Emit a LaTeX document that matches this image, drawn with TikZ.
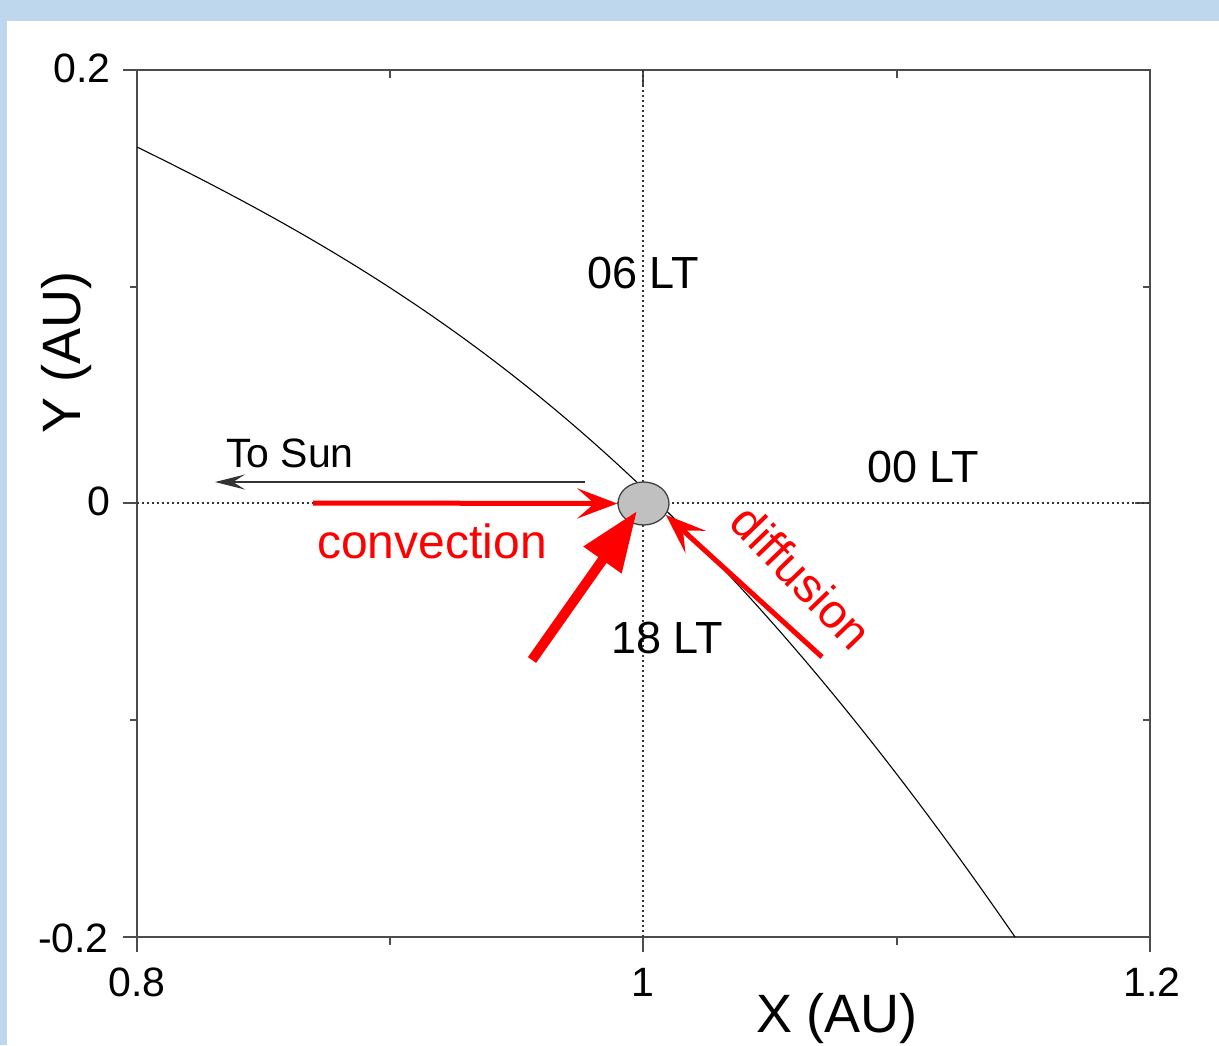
\documentclass[tikz,border=0pt]{standalone}
\usepackage{fontspec}
\setmainfont{Liberation Sans}
\usetikzlibrary{arrows.meta, shapes.geometric}
\definecolor{frameblue}{RGB}{190,215,237}
\definecolor{earthgray}{RGB}{192,192,192}
\definecolor{flowred}{RGB}{255,0,0}

\begin{document}
\begin{tikzpicture}[x=1pt, y=-1pt,
  ticklab/.style={font=\fontsize{41}{45}\selectfont, inner sep=0pt},
  axlab/.style={font=\fontsize{54}{60}\selectfont, inner sep=0pt},
  ltlab/.style={font=\fontsize{45}{50}\selectfont, inner sep=0pt},
  flowlab/.style={font=\fontsize{48}{52}\selectfont, text=flowred, inner sep=0pt},
  frame/.style={draw=black!70, line width=1.4pt},
  guide/.style={draw=black!80, line width=1.2pt, dash pattern=on 1.5pt off 3.5pt},
  orbit/.style={draw=black, line width=1.1pt},
  earth/.style={ellipse, draw=black!75, fill=earthgray, line width=1.3pt,
                minimum width=51pt, minimum height=43pt, inner sep=0pt},
  flow/.style={draw=flowred, line width=5pt,
               -{Stealth[length=40pt, width=30pt, inset=17pt]}},
  bigflow/.style={draw=flowred, line width=10pt, -{Triangle[length=60pt, width=44pt]}},
  sunward/.style={draw=black!80, line width=1.4pt,
                  -{Stealth[length=30pt, width=15pt, inset=12pt]}}]
\useasboundingbox (0,0) rectangle (1219,1045);
\fill[frameblue] (0,0) rectangle (1219,1045);
\fill[white] (7,21) rectangle (1219,1045);
% Axes box and ticks.
\draw[frame] (137,70) rectangle (1150,937);
\foreach \px in {137,643,1150} {
  \draw[frame] (\px,937) -- ++(0,15);
  \draw[frame] (\px,70) -- ++(0,15);
}
\foreach \px in {390,897} {
  \draw[frame] (\px,937) -- ++(0,8);
  \draw[frame] (\px,70) -- ++(0,8);
}
\foreach \py in {70,503,937} {
  \draw[frame] (137,\py) -- ++(-14,0);
  \draw[frame] (1150,\py) -- ++(-15,0);
}
\foreach \py in {287,720} {
  \draw[frame] (137,\py) -- ++(-7,0);
  \draw[frame] (1150,\py) -- ++(-7,0);
}
\node[ticklab, anchor=east] (y0p2) at (111,68) {0.2};
\node[ticklab, anchor=east] (y0) at (111,501) {0};
\node[ticklab, anchor=east] (ym0p2) at (109,938) {-0.2};
\node[ticklab] (x0p8) at (137,982) {0.8};
\node[ticklab] (x1) at (643,982) {1};
\node[ticklab] (x1p2) at (1152,982) {1.2};
\node[axlab] (xlab) at (837,1019) {X (AU)};
\node[axlab, rotate=90] (ylab) at (67,352) {Y (AU)};
% Noon-midnight and dawn-dusk lines.
\draw[guide] (137,503) -- (1150,503);
\draw[guide] (643,70) -- (643,937);
% Field line through Earth.
\draw[orbit] (137,147) .. controls (437,294) and (685,458.5) .. (1015,937);
\node[earth] (earth) at (643.5,503.5) {};
% Local time labels.
\node[ltlab] (lt06) at (643,273) {06 LT};
\node[ltlab] (lt00) at (923,467) {00 LT};
\node[ltlab] (lt18) at (667,638) {18 LT};
% Direction of the Sun.
\coordinate (sunfrom) at (585,482);
\coordinate (sunto) at (215,482);
\draw[sunward] (sunfrom) -- (sunto);
\node[font=\fontsize{41}{45}\selectfont, inner sep=0pt] (sunlab) at (290,453) {To Sun};
% Transport paths.
\coordinate (convtail) at (313,503);
\coordinate (bigtail) at (532,660);
\coordinate (bigtip) at (637,511);
\coordinate (difftail) at (822,657);
\draw[flow] (convtail) -- (earth.west);
\draw[bigflow] (bigtail) -- (bigtip);
\draw[flow] (difftail) -- (earth.-27);
\node[flowlab] (convlab) at (432,541) {convection};
\node[flowlab, rotate=-46] (difflab) at (802,577) {diffusion};
\end{tikzpicture}
\end{document}
